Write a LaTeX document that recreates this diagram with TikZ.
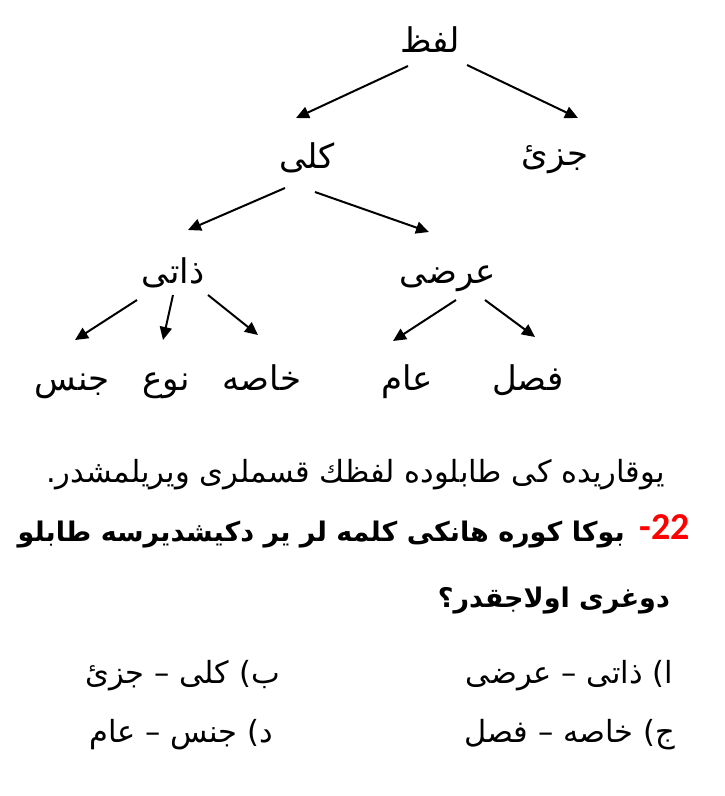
\documentclass[tikz,border=0pt]{standalone}
\usepackage{fontspec}
\TeXXeTstate=1
\newfontfamily\arabicfont[Script=Arabic]{DejaVu Sans}
\newfontfamily\numfont{Carlito}
\usetikzlibrary{arrows.meta,calc}
\begin{document}
\begin{tikzpicture}[x=1pt,y=-1pt,
  lbl/.style={font=\arabicfont\fontsize{34}{40}\selectfont, inner sep=0pt, anchor=base},
  txt/.style={font=\arabicfont\fontsize{30.5}{36}\selectfont, inner sep=0pt, anchor=base east},
  btxt/.style={font=\arabicfont\bfseries\fontsize{27}{32}\selectfont, inner sep=0pt, anchor=base east},
  arr/.style={line width=2pt, -{Triangle[length=13pt,width=12pt]}}]
\useasboundingbox (0,0) rectangle (725,796);
\fill[white] (0,0) rectangle (725,796);
% tree
\node[lbl] (lafz)  at (430,52)  {لفظ};
\node[lbl] (kolli) at (307,168) {کلی};
\node[lbl] (jozi)  at (555,165) {جزئ};
\node[lbl] (zati)  at (173,283) {ذاتی};
\node[lbl] (arazi) at (448,283) {عرضی};
\node[lbl] (jins)  at (72,390)  {جنس};
\node[lbl] (naw)   at (166,390) {نوع};
\node[lbl] (khasa) at (262,390) {خاصه};
\node[lbl] (aam)   at (407,390) {عام};
\node[lbl] (fasl)  at (528,390) {فصل};
\draw[arr] ($(lafz.base)+(-22,14)$) -- ($(kolli.base)+(-11,-50)$);
\draw[arr] ($(lafz.base)+(37,13)$) -- ($(jozi.base)+(23,-47)$);
\draw[arr] ($(kolli.base)+(-22,20)$) -- ($(zati.base)+(15,-53)$);
\draw[arr] ($(kolli.base)+(8,24)$) -- ($(arazi.base)+(-19,-51)$);
\draw[arr] ($(zati.base)+(-36,17)$) -- ($(jins.base)+(3,-50)$);
\draw[arr] ($(zati.base)+(0,12)$) -- ($(naw.base)+(-3,-50)$);
\draw[arr] ($(zati.base)+(35,12)$) -- ($(khasa.base)+(-4,-55)$);
\draw[arr] ($(arazi.base)+(8,17)$) -- ($(aam.base)+(-14,-49)$);
\draw[arr] ($(arazi.base)+(37,17)$) -- ($(fasl.base)+(7,-53)$);
% text
\node[txt] (l1) at (665,482) {\beginR یوقاریده کی طابلوده لفظك قسملری ویریلمشدر.\endR};
\node[inner sep=0pt, anchor=base east, text=red, font=\numfont\bfseries\fontsize{38}{44}\selectfont] (q) at (690,539) {-22};
\node[btxt] (l2) at (625,541) {\beginR بوکا کوره هانکی کلمه لر یر دکیشدیرسه طابلو\endR};
\node[btxt] (l3) at (670,607) {\beginR دوغری اولاجقدر؟\endR};
\node[txt] (oa) at (673,683) {\beginR ا) ذاتی – عرضی\endR};
\node[txt] (ob) at (280,683) {\beginR ب) کلی – جزئ\endR};
\node[txt] (oj) at (675,742) {\beginR ج) خاصه – فصل\endR};
\node[txt] (od) at (273,742) {\beginR د) جنس – عام\endR};
\end{tikzpicture}
\end{document}
